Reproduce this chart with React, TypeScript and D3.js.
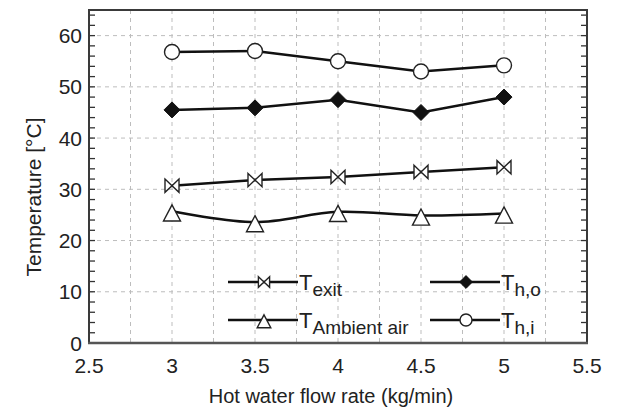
import React from "react";
import * as d3 from "d3";

// Hot water flow rate (kg/min)
const flowRates = [3, 3.5, 4, 4.5, 5];
// Temperatures (°C)
const tHi = [56.8, 57.0, 55.0, 53.0, 54.2];
const tHo = [45.5, 45.9, 47.5, 45.0, 48.0];
const tExit = [30.7, 31.8, 32.4, 33.4, 34.3];
const tAmbient = [25.7, 23.6, 25.6, 24.9, 25.3];

const xTicks = [2.5, 3, 3.5, 4, 4.5, 5, 5.5];
const yTicks = [0, 10, 20, 30, 40, 50, 60];

const W = 617;
const H = 418;
const left = 89;
const right = 587;
const top = 10;
const bottom = 343;
const FONT = "'Liberation Sans', Arial, Helvetica, sans-serif";

const x = d3.scaleLinear().domain([2.5, 5.5]).range([left, right]);
const y = d3.scaleLinear().domain([0, 65]).range([bottom, top]);

type MarkerKind = "bowtie" | "triangle" | "diamond" | "circle";

function Marker({ kind, cx, cy, s }: { kind: MarkerKind; cx: number; cy: number; s: number }) {
  const stroke = "#222";
  if (kind === "circle") {
    return <circle cx={cx} cy={cy} r={s} fill="#fff" stroke={stroke} strokeWidth={1.4} />;
  }
  if (kind === "diamond") {
    const p = `${cx},${cy - s} ${cx + s},${cy} ${cx},${cy + s} ${cx - s},${cy}`;
    return <polygon points={p} fill="#111" stroke="#111" strokeWidth={1} />;
  }
  if (kind === "triangle") {
    const h = s * 1.9;
    const t = cy - h * 0.4;
    const b = cy + h * 0.6;
    const p = `${cx},${t} ${cx + s},${b} ${cx - s},${b}`;
    return <polygon points={p} fill="#fff" stroke={stroke} strokeWidth={1.4} strokeLinejoin="miter" />;
  }
  // bowtie: two triangles meeting at the centre, vertical edges on both sides
  const hs = s * 0.95;
  const p = `${cx - s},${cy - hs} ${cx},${cy} ${cx - s},${cy + hs} Z M ${cx + s},${cy - hs} ${cx},${cy} ${cx + s},${cy + hs} Z`;
  return <path d={`M ${p}`} fill="#fff" stroke={stroke} strokeWidth={1.4} strokeLinejoin="miter" />;
}

const series: { name: string; sub: string; values: number[]; kind: MarkerKind; size: number; curve: d3.CurveFactory }[] = [
  { name: "T", sub: "exit", values: tExit, kind: "bowtie", size: 7, curve: d3.curveLinear },
  { name: "T", sub: "Ambient air", values: tAmbient, kind: "triangle", size: 8.5, curve: d3.curveCatmullRom.alpha(0.5) },
  { name: "T", sub: "h,o", values: tHo, kind: "diamond", size: 8, curve: d3.curveLinear },
  { name: "T", sub: "h,i", values: tHi, kind: "circle", size: 7.5, curve: d3.curveLinear },
];

// legend layout: two columns, two rows
const legendSlots = [
  { lx: 228, ly: 282 },
  { lx: 228, ly: 320 },
  { lx: 430, ly: 282 },
  { lx: 430, ly: 320 },
];

export default function App() {
  const vGrid = d3.range(2.75, 5.5, 0.25);
  const hGrid = [10, 20, 30, 40, 50, 60];
  const minor = d3.range(0, 65, 2);

  return (
    <svg width={W} height={H} style={{ position: "absolute", left: 0, top: 0, background: "#fff" }} fontFamily={FONT}>
      <rect x={0} y={0} width={W} height={H} fill="#fff" />
      {/* grid */}
      <g stroke="#bdbdbd" strokeWidth={1} strokeDasharray="4,4">
        {vGrid.map((v) => (
          <line key={`v${v}`} x1={x(v)} x2={x(v)} y1={top} y2={bottom} />
        ))}
        {hGrid.map((v) => (
          <line key={`h${v}`} x1={left} x2={right} y1={y(v)} y2={y(v)} />
        ))}
      </g>
      {/* inward minor/major ticks on left and right */}
      <g stroke="#333" strokeWidth={1.3}>
        {minor.map((v) => (
          <g key={`t${v}`}>
            <line x1={left} x2={left + 6} y1={y(v)} y2={y(v)} />
            <line x1={right} x2={right - 6} y1={y(v)} y2={y(v)} />
          </g>
        ))}
      </g>
      {/* frame */}
      <rect x={left} y={top} width={right - left} height={bottom - top} fill="none" stroke="#3a3a3a" strokeWidth={2} />
      <line x1={left - 1} x2={right + 1} y1={bottom} y2={bottom} stroke="#555" strokeWidth={2.5} />

      {/* tick labels */}
      <g fontSize={21} fill="#222">
        {yTicks.map((v) => (
          <text key={`yl${v}`} x={left - 7} y={y(v)} textAnchor="end" dominantBaseline="central">
            {v}
          </text>
        ))}
        {xTicks.map((v) => (
          <text key={`xl${v}`} x={x(v)} y={373} textAnchor="middle">
            {v}
          </text>
        ))}
      </g>

      {/* axis titles */}
      <text x={331} y={403} textAnchor="middle" fontSize={20} fill="#222">
        Hot water flow rate (kg/min)
      </text>
      <text transform="translate(41,197) rotate(-90)" textAnchor="middle" fontSize={21} fill="#222">
        Temperature [°C]
      </text>

      {/* series */}
      {series.map((s) => {
        const pts = flowRates.map((f, i) => [x(f), y(s.values[i])] as [number, number]);
        const path = d3.line().curve(s.curve)(pts) || "";
        return (
          <g key={s.sub}>
            <path d={path} fill="none" stroke="#111" strokeWidth={2.5} />
            {pts.map(([px, py], i) => (
              <Marker key={i} kind={s.kind} cx={px} cy={py} s={s.size} />
            ))}
          </g>
        );
      })}

      {/* legend */}
      {series.map((s, i) => {
        const { lx, ly } = legendSlots[i];
        return (
          <g key={`lg${s.sub}`}>
            <line x1={lx} x2={lx + 70} y1={ly} y2={ly} stroke="#111" strokeWidth={2.5} />
            <Marker kind={s.kind} cx={lx + 36} cy={ly} s={s.size * 0.8} />
            <text x={lx + 71} y={ly + 8} fontSize={22} fill="#222">
              {s.name}
              <tspan fontSize={19} dy={6}>
                {s.sub}
              </tspan>
            </text>
          </g>
        );
      })}
    </svg>
  );
}
